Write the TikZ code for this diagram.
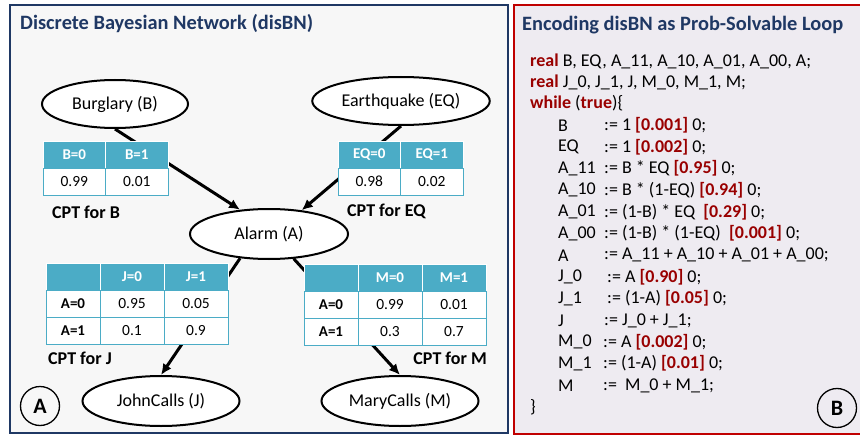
\documentclass[tikz,border=0pt]{standalone}
\usepackage{fontspec}
\setmainfont{Carlito}
\usetikzlibrary{shapes.geometric,arrows.meta}

\definecolor{navy}{RGB}{31,56,100}
\definecolor{crimson}{RGB}{192,0,0}
\definecolor{darkred}{RGB}{153,0,0}
\definecolor{cptteal}{RGB}{75,172,198}
\definecolor{leftbg}{RGB}{247,247,247}
\definecolor{rightbg}{RGB}{238,235,241}

\newcommand{\kw}[1]{\textcolor{darkred}{\textbf{#1}}}
\newcommand{\pr}[1]{\textcolor{darkred}{\textbf{[#1]}}}

\begin{document}
\begin{tikzpicture}[x=1pt,y=-1pt,
    var/.style={ellipse, draw, line width=2pt, fill=white, minimum height=48pt,
        font=\fontsize{18}{20}\selectfont},
    edge/.style={line width=3pt, -{Latex[length=11pt,width=10pt]}},
    hcell/.style={fill=cptteal, draw=white, line width=0.6pt, text=white, inner sep=0pt,
        minimum height=27pt, font=\bfseries\fontsize{15}{17}\selectfont},
    bcell/.style={fill=white, draw=cptteal, line width=1pt, inner sep=0pt,
        minimum height=27pt, font=\fontsize{15.5}{17}\selectfont},
    rcell/.style={bcell, font=\bfseries\fontsize{15}{17}\selectfont},
    cptlabel/.style={anchor=west, inner sep=0pt, font=\bfseries\fontsize{18}{20}\selectfont},
    paneltitle/.style={anchor=west, inner sep=0pt, text=navy, font=\bfseries\fontsize{20.4}{22}\selectfont},
    code/.style={anchor=west, inner sep=0pt, font=\fontsize{18}{20}\selectfont},
    tag/.style={circle, draw, line width=1.3pt, minimum size=39pt, inner sep=0pt,
        font=\bfseries\fontsize{22}{22}\selectfont}
]
    \useasboundingbox (0,0) rectangle (860,436);

    % panels
    \filldraw[fill=leftbg, draw=navy, line width=2pt] (10,5) rectangle (508,433);
    \filldraw[fill=rightbg, draw=crimson, line width=2pt] (514,5) rectangle (864,434);

    \node[paneltitle] (ltitle) at (20,24) {Discrete Bayesian Network (disBN)};
    \node[paneltitle] (rtitle) at (522,25) {Encoding disBN as Prob-Solvable Loop};

    % the network
    \node[var, minimum width=146pt] (burglary) at (115,104) {Burglary (B)};
    \node[var, minimum width=162pt] (quake) at (401,101) {Earthquake (EQ)};
    \node[var, minimum width=158pt, minimum height=50pt] (alarm) at (269,234) {Alarm (A)};
    \node[var, minimum width=157pt, minimum height=50pt] (john) at (161,401) {JohnCalls (J)};
    \node[var, minimum width=157pt, minimum height=50pt] (mary) at (400,401) {MaryCalls (M)};

    \draw[edge] (burglary.south) -- (alarm.140);
    \draw[edge] (quake.south) -- (alarm.36);
    \draw[edge] (alarm.-140) -- (john.north);
    \draw[edge] (alarm.-45) -- (mary.north);

    % CPT for B
    \node[hcell, minimum width=62.5pt] (bh0) at (74.25,154.5) {B=0};
    \node[hcell, minimum width=62.5pt] (bh1) at (136.75,154.5) {B=1};
    \node[bcell, minimum width=62.5pt] (bv0) at (74.25,181.5) {0.99};
    \node[bcell, minimum width=62.5pt] (bv1) at (136.75,181.5) {0.01};
    \node[cptlabel] (bcap) at (52,212) {CPT for B};

    % CPT for EQ
    \node[hcell, minimum width=62.5pt] (eh0) at (369.25,154.5) {EQ=0};
    \node[hcell, minimum width=62.5pt] (eh1) at (431.75,154.5) {EQ=1};
    \node[bcell, minimum width=62.5pt] (ev0) at (369.25,181.5) {0.98};
    \node[bcell, minimum width=62.5pt] (ev1) at (431.75,181.5) {0.02};
    \node[cptlabel] (ecap) at (347,211) {CPT for EQ};

    % CPT for J
    \node[hcell, minimum width=54pt] (jh) at (73,277) {};
    \node[hcell, minimum width=64pt] (jh0) at (132,277) {J=0};
    \node[hcell, minimum width=64pt] (jh1) at (196,277) {J=1};
    \foreach \a/\p/\q [count=\i] in {A=0/0.95/0.05, A=1/0.1/0.9}
    {
        \node[rcell, minimum width=54pt] (jr\i) at (73,277+27*\i) {\a};
        \node[bcell, minimum width=64pt] (jp\i) at (132,277+27*\i) {\p};
        \node[bcell, minimum width=64pt] (jq\i) at (196,277+27*\i) {\q};
    }
    \node[cptlabel] (jcap) at (48,358) {CPT for J};

    % CPT for M
    \node[hcell, minimum width=54pt] (mh) at (331,278) {};
    \node[hcell, minimum width=64pt] (mh0) at (390,278) {M=0};
    \node[hcell, minimum width=64pt] (mh1) at (454,278) {M=1};
    \foreach \a/\p/\q [count=\i] in {A=0/0.99/0.01, A=1/0.3/0.7}
    {
        \node[rcell, minimum width=54pt] (mr\i) at (331,278+27*\i) {\a};
        \node[bcell, minimum width=64pt] (mp\i) at (390,278+27*\i) {\p};
        \node[bcell, minimum width=64pt] (mq\i) at (454,278+27*\i) {\q};
    }
    \node[cptlabel, anchor=east] (mcap) at (487,358) {CPT for M};

    \node[tag] (tagA) at (40,406) {A};

    % the loop
    \node[code] (decl1) at (530,61) {\kw{real} B, EQ, A\_11, A\_10, A\_01, A\_00, A;};
    \node[code] (decl2) at (530,82) {\kw{real} J\_0, J\_1, J, M\_0, M\_1, M;};
    \node[code] (head) at (530,103) {\kw{while} (\kw{true})\{};
    \foreach \lhs/\rhs/\rx [count=\i] in {
        B/{:= 1 \pr{0.001} 0;}/604,
        EQ/{:= 1 \pr{0.002} 0;}/604,
        A\_11/{:= B * EQ \pr{0.95} 0;}/604,
        A\_10/{:= B * (1-EQ) \pr{0.94} 0;}/604,
        A\_01/{:= (1-B) * EQ\ \ \pr{0.29} 0;}/604,
        A\_00/{:= (1-B) * (1-EQ)\ \ \pr{0.001} 0;}/604,
        A/{:= A\_11 + A\_10 + A\_01 + A\_00;}/604,
        J\_0/{:= A \pr{0.90} 0;}/607,
        J\_1/{:= (1-A) \pr{0.05} 0;}/607,
        J/{:= J\_0 + J\_1;}/604,
        M\_0/{:= A \pr{0.002} 0;}/603,
        M\_1/{:= (1-A) \pr{0.01} 0;}/603,
        M/{:=\ \ M\_0 + M\_1;}/603}
    {
        \node[code] (lhs\i) at (558,103.67+21.67*\i) {\lhs};
        \node[code] (rhs\i) at (\rx,103.67+21.67*\i) {\rhs};
    }
    \node[code] (tail) at (530,407) {\}};

    \node[tag] (tagB) at (837,408) {B};

\end{tikzpicture}
\end{document}
